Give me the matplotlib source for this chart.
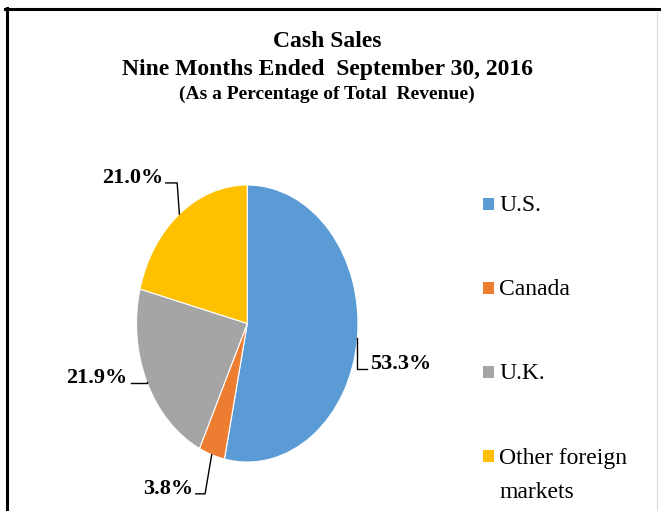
import matplotlib.pyplot as plt
from matplotlib.lines import Line2D
from matplotlib.patches import Rectangle
import numpy as np

# data
regions = ['U.S.', 'Canada', 'U.K.', 'Other foreign\nmarkets']
shares = [53.3, 3.8, 21.9, 21.0]
pct_labels = ['53.3%', '3.8%', '21.9%', '21.0%']
colors = ['#5B9BD5', '#ED7D31', '#A5A5A5', '#FFC000']
title_lines = ['Cash Sales',
               'Nine Months Ended  September 30, 2016',
               '(As a Percentage of Total  Revenue)']

W, H = 661, 511
serif = 'Liberation Serif'


def fx(px):
    return px / W


def fy(py):
    return 1 - py / H


fig = plt.figure(figsize=(W / 100, H / 100), dpi=100)

# pie drawn as an ellipse (axes not equal aspect)
ax = fig.add_axes([fx(136.5), fy(462), (358 - 136.5) / W, (462 - 185) / H])
wedges, _ = ax.pie(shares, colors=colors, startangle=90, counterclock=False,
                   wedgeprops=dict(edgecolor='white', linewidth=0.8))
ax.set_aspect('auto')
ax.set_xlim(-1, 1)
ax.set_ylim(-1, 1)
ax.axis('off')

# label anchor (data units), alignment, elbow shift
label_pos = [(1.108, -0.33, 'left', 0.0),
             (-0.49, -1.23, 'right', -0.06),
             (-1.078, -0.43, 'right', 0.0),
             (-0.761, 1.015, 'right', -0.02)]
for w, txt, (tx, ty, ha, dx) in zip(wedges, pct_labels, label_pos):
    mid = np.deg2rad((w.theta1 + w.theta2) / 2)
    ex, ey = np.cos(mid), np.sin(mid)
    end = tx - 0.025 if ha == 'left' else tx + 0.025
    ax.plot([ex, ex + dx, end], [ey, ty, ty], color='black', lw=1, clip_on=False)
    ax.text(tx, ty, txt, ha=ha, va='baseline', fontsize=16, fontweight='bold',
            family=serif, clip_on=False)

# title
for txt, y, size in zip(title_lines, [47, 75, 99], [17, 17, 14]):
    fig.text(fx(327), fy(y), txt, ha='center', va='baseline', fontsize=size,
             fontweight='bold', family=serif)

# legend
for i, (lab, col) in enumerate(zip(regions, colors)):
    cy = 204 + 84 * i
    fig.add_artist(Rectangle((fx(483), fy(cy + 6)), 11 / W, 12 / H,
                             facecolor=col, edgecolor='none', transform=fig.transFigure))
    # baseline refers to the last line of a multi-line label
    base = cy + 7 + 35 * lab.count('\n')
    fig.text(fx(499), fy(base), lab, ha='left', va='baseline', fontsize=17,
             family=serif, linespacing=1.8)

# frame of the original box
fig.add_artist(Line2D([fx(5), 1], [fy(9.5), fy(9.5)], color='black', lw=2.2))
fig.add_artist(Line2D([fx(6.5), fx(6.5)], [fy(8), 0], color='black', lw=2.2))
fig.add_artist(Line2D([fx(656.5), fx(656.5)], [fy(12), 0], color='#d9d9d9', lw=0.8))

fig.savefig('out.png', dpi=100)
